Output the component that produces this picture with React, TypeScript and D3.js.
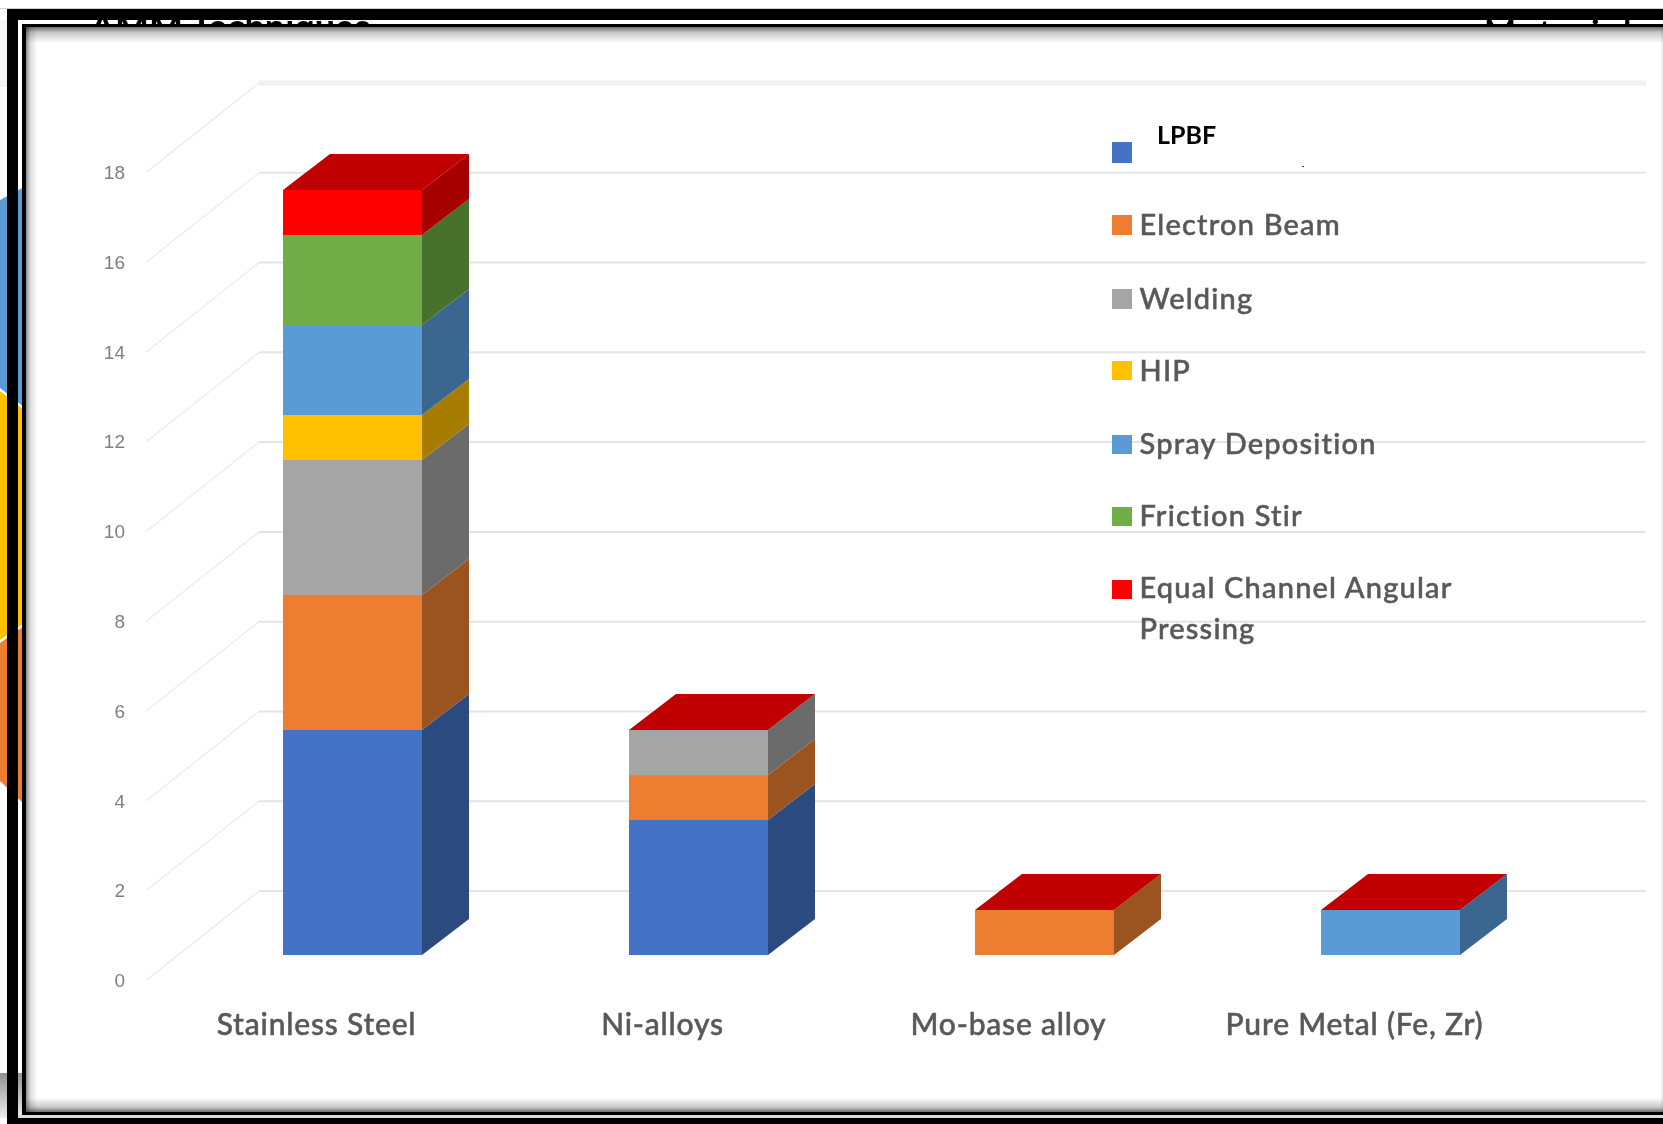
import React from "react";
import * as d3 from "d3";

const categories = ["Stainless Steel", "Ni-alloys", "Mo-base alloy", "Pure Metal (Fe, Zr)"];
const seriesNames = ["LPBF", "Electron Beam", "Welding", "HIP", "Spray Deposition", "Friction Stir", "Equal Channel Angular Pressing"];
const lpbf = [5, 3, 0, 0];
const electronBeam = [3, 1, 1, 0];
const welding = [3, 1, 0, 0];
const hip = [1, 0, 0, 0];
const sprayDeposition = [2, 0, 0, 1];
const frictionStir = [2, 0, 0, 0];
const equalChannel = [1, 0, 0, 0];
const seriesValues = [lpbf, electronBeam, welding, hip, sprayDeposition, frictionStir, equalChannel];
const frontColors = ["#4472C4", "#ED7D31", "#A5A5A5", "#FFC000", "#5B9BD5", "#70AD47", "#FF0000"];
const sideColors = ["#2A4A80", "#9B531F", "#6B6B6B", "#A67D00", "#3A6690", "#49712E", "#A60000"];
const topColor = "#C00000";
const yTicks = [0, 2, 4, 6, 8, 10, 12, 14, 16, 18];

const W = 1663, H = 1124;
const DX = 47, DY = -36;

const x = d3.scaleBand<string>().domain(categories).range([283, 1460]).paddingInner(207 / 346).paddingOuter(0);
const yBar = d3.scaleLinear().domain([0, 18]).range([955, 145]);
const yWall = d3.scaleLinear().domain([0, 18]).range([891, 83]);
const yLabel = d3.scaleLinear().domain([0, 18]).range([980.5, 172.5]);

const rows = categories.map((c, i) => {
  const r: Record<string, any> = { category: c };
  seriesNames.forEach((s, j) => { r[s] = seriesValues[j][i]; });
  return r;
});
const stacked = d3.stack<any>().keys(seriesNames)(rows);
const totals = categories.map((_, i) => d3.sum(seriesValues, (s) => s[i]));

const poly = d3.line<[number, number]>().curve(d3.curveLinearClosed);

const legendSwatchY = [142, 215, 289, 361, 435, 507, 580];
const legendSwatchH = [21, 20, 20, 19, 19, 19, 19];
const legendBaseline = [144, 235, 309, 381, 454, 526, 598];

const FONT = "Lato, 'Open Sans', sans-serif";

export default function App() {
  return (
    <svg width={W} height={H} viewBox={`0 0 ${W} ${H}`} style={{ position: "fixed", left: 0, top: 0, background: "#fff" }}>
      <defs>
        <filter id="soft" x="-5%" y="-20%" width="110%" height="140%"><feGaussianBlur stdDeviation="0.6" /></filter>
        <filter id="soft2" x="-5%" y="-20%" width="110%" height="140%"><feGaussianBlur stdDeviation="0.35" /></filter>
        <linearGradient id="gt" x1="0" y1="0" x2="0" y2="1"><stop offset="0" stopColor="#707070" /><stop offset="0.35" stopColor="#c8c8c8" /><stop offset="1" stopColor="#ffffff" /></linearGradient>
        <linearGradient id="gb" x1="0" y1="1" x2="0" y2="0"><stop offset="0" stopColor="#707070" /><stop offset="0.35" stopColor="#c8c8c8" /><stop offset="1" stopColor="#ffffff" /></linearGradient>
        <linearGradient id="gl" x1="0" y1="0" x2="1" y2="0"><stop offset="0" stopColor="#909090" /><stop offset="0.4" stopColor="#dcdcdc" /><stop offset="1" stopColor="#ffffff" /></linearGradient>
        <linearGradient id="gr" x1="0" y1="0" x2="0" y2="1"><stop offset="0" stopColor="#909090" /><stop offset="1" stopColor="#eeeeee" /></linearGradient>
        <clipPath id="gap"><rect x={0} y={20} width={W} height={4} /></clipPath>
      </defs>

      {/* what shows around the pasted chart */}
      <rect x={0} y={8} width={W} height={1} fill="#d0d0d0" />
      <rect x={0} y={20} width={8} height={67} fill="#f4f4f4" />
      <polygon points="0,200 24,187 24,407 0,388" fill="#5B9BD5" />
      <polygon points="0,391 24,410 24,623 0,640" fill="#FFC000" />
      <polygon points="0,643 24,626 24,804 0,781" fill="#ED7D31" />
      <rect x={0} y={1073} width={24} height={45} fill="url(#gr)" />

      <g clipPath="url(#gap)" fontFamily={FONT} fontWeight={700} fontSize={36} fill="#000">
        <text x={90} y={40}>AMM Techniques</text>
        <text x={1484} y={45} fontSize={34} letterSpacing={3}>Materials</text>
      </g>

      {/* frame */}
      <rect x={7} y={9} width={W} height={11} fill="#000" />
      <rect x={7} y={9} width={11} height={H} fill="#000" />
      <rect x={7} y={1118} width={W} height={6} fill="#000" />
      <rect x={18} y={1115} width={W} height={3} fill="#dcdcdc" />
      <rect x={22} y={24} width={W} height={1091} fill="#000" />
      <rect x={26} y={27} width={W} height={1085} fill="#fff" />
      <rect x={26} y={27} width={W} height={16} fill="url(#gt)" />
      <rect x={26} y={1098} width={W} height={14} fill="url(#gb)" />
      <rect x={26} y={27} width={11} height={1085} fill="url(#gl)" style={{ mixBlendMode: "multiply" }} />
      <rect x={1661} y={27} width={2} height={1085} fill="#efefef" style={{ mixBlendMode: "multiply" }} />

      {/* walls */}
      {yTicks.map((t) => (
        <g key={t} fill="none">
          <path d={d3.line()([[146, yLabel(t)], [x.range()[0] - 24, yWall(t)]]) as string} strokeWidth={1.6} stroke="#efefef" />
          <line x1={x.range()[0] - 24} x2={1646} y1={yWall(t)} y2={yWall(t)} strokeWidth={t === 18 ? 5 : 2} stroke={t === 18 ? "#f0f0f0" : "#e4e4e4"} />
        </g>
      ))}

      {/* bars */}
      {categories.map((c, i) => {
        const x0 = x(c) as number, x1 = x0 + x.bandwidth();
        return (
          <g key={c}>
            {stacked.map((layer, j) => {
              const [a, b] = layer[i];
              if (b - a <= 0) return null;
              const ya = yBar(a), yb = yBar(b);
              return (
                <g key={j}>
                  <path d={poly([[x1, ya], [x1 + DX, ya + DY], [x1 + DX, yb + DY], [x1, yb]]) as string} fill={sideColors[j]} />
                  <path d={poly([[x0, ya], [x1, ya], [x1, yb], [x0, yb]]) as string} fill={frontColors[j]} />
                </g>
              );
            })}
            <path d={poly([[x0, yBar(totals[i])], [x1, yBar(totals[i])], [x1 + DX, yBar(totals[i]) + DY], [x0 + DX, yBar(totals[i]) + DY]]) as string} fill={topColor} />
          </g>
        );
      })}

      {/* y axis labels */}
      <g fontFamily="'Liberation Sans', Arial, sans-serif" fontSize={19} fill="#7f7f7f" textAnchor="end" filter="url(#soft)">
        {yTicks.map((t) => (
          <text key={t} x={125} y={yLabel(t)} dy="0.35em">{t}</text>
        ))}
      </g>

      {/* category labels */}
      <g fontFamily={FONT} fontSize={30} fontWeight={500} fill="#595959" stroke="#595959" strokeWidth={0.5} textAnchor="middle" filter="url(#soft)" letterSpacing={0.8}>
        {categories.map((c) => (
          <text key={c} x={(x(c) as number) + x.bandwidth() / 2 - 36} y={1035}>{c}</text>
        ))}
      </g>

      {/* legend */}
      {seriesNames.map((s, j) => (
        <rect key={s} x={1112} y={legendSwatchY[j]} width={20} height={legendSwatchH[j]} fill={frontColors[j]} />
      ))}
      <text x={1157} y={legendBaseline[0]} fontFamily={FONT} fontWeight={700} fontSize={25} fill="#000" filter="url(#soft2)">{seriesNames[0]}</text>
      <rect x={1302} y={166} width={2} height={1} fill="#333" />
      <g fontFamily={FONT} fontSize={29} fontWeight={500} fill="#595959" stroke="#595959" strokeWidth={0.5} filter="url(#soft)" letterSpacing={1.2}>
        {seriesNames.slice(1, 6).map((s, j) => (
          <text key={s} x={1139.5} y={legendBaseline[j + 1]}>{s}</text>
        ))}
        <text x={1139.5} y={legendBaseline[6]}>Equal Channel Angular</text>
        <text x={1139.5} y={639}>Pressing</text>
      </g>
    </svg>
  );
}
